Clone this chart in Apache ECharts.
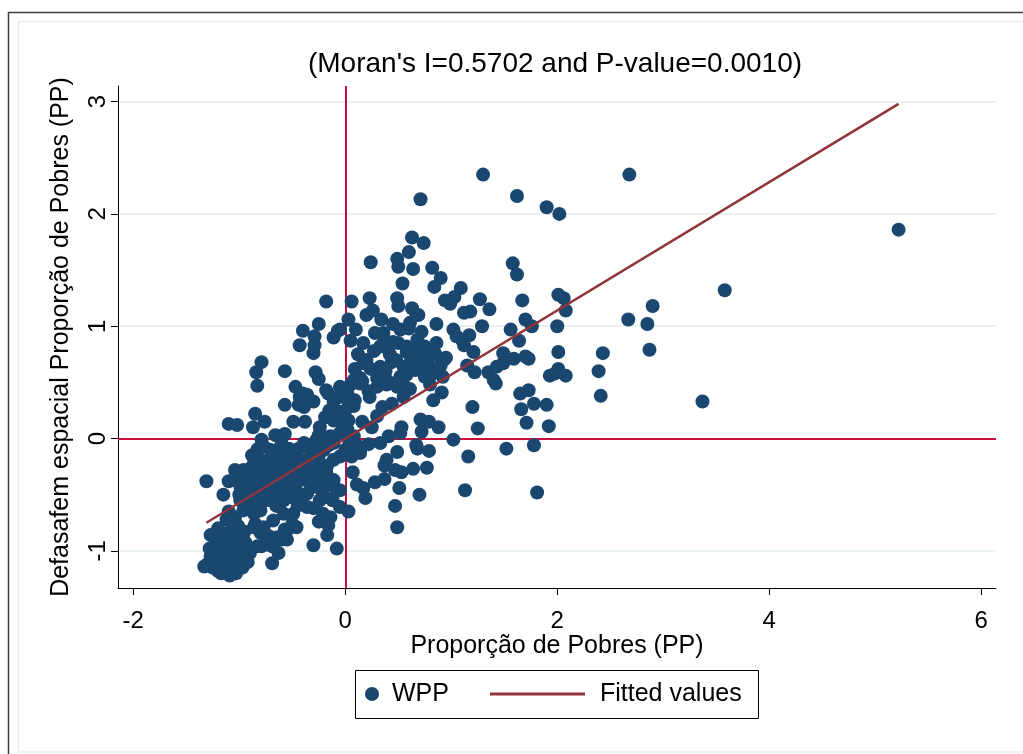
<!DOCTYPE html>
<html lang="pt">
<head>
<meta charset="UTF-8">
<title>Moran scatterplot - Proporção de Pobres</title>
<script src="https://cdn.jsdelivr.net/npm/echarts@6/dist/echarts.min.js"></script>
<style>
  html, body { margin: 0; padding: 0; background: #fff; }
  #chart { width: 1023px; height: 754px; }
</style>
</head>
<body>
<div id="chart"></div>
<script>
// ticks
var xTicks = [-2, 0, 2, 4, 6];
var yTicks = [-1, 0, 1, 2, 3];

// fitted values (slope = Moran's I)
var fitX = [-1.31, 5.22];
var fitY = [-0.75, 2.98];

// WPP: [PP, lag of PP]
var wpp = [
  [1.30,2.35],[2.68,2.35],[1.62,2.16],[1.90,2.06],[2.02,2.00],[0.71,2.13],[5.22,1.86],[3.58,1.32],[3.37,0.33],
  [1.58,1.56],[1.62,1.46],[1.67,1.23],[2.01,1.28],[2.06,1.25],[2.08,1.14],[1.70,1.06],[1.76,1.00],[1.56,0.97],
  [1.64,0.87],[2.00,1.00],[2.90,1.18],[2.67,1.06],[2.85,1.02],[2.87,0.79],[1.49,0.76],[1.59,0.71],[1.70,0.73],
  [1.73,0.71],[2.01,0.77],[2.43,0.76],[2.39,0.60],[2.41,0.38],[1.93,0.56],[2.01,0.62],[1.98,0.58],[2.08,0.56],
  [1.65,0.40],[1.73,0.43],[1.78,0.31],[1.90,0.30],[1.66,0.26],[1.42,0.49],[1.71,0.14],[1.92,0.11],[1.52,-0.09],
  [1.78,-0.06],[1.81,-0.48],
  [1.09,1.34],[1.03,1.26],[0.99,1.20],[1.27,1.24],[1.36,1.15],[1.12,1.12],[1.18,1.13],[1.29,1.00],[1.02,0.97],
  [1.05,0.91],[1.17,0.92],[1.12,0.83],[1.21,0.77],[1.15,0.65],[1.22,0.59],[1.35,0.59],[1.43,0.64],[1.49,0.67],
  [1.40,0.52],[1.20,0.28],[1.25,0.09],[1.02,-0.01],[1.16,-0.16],[1.13,-0.46],[1.10,0.88],
  [0.70,-0.50],[0.47,-0.60],[0.49,-0.79],[0.51,-0.44],[0.77,-0.26],[0.64,-0.27],[0.53,-0.30],[0.47,-0.28],
  [0.37,-0.24],[0.39,-0.19],[0.49,-0.12],[0.67,-0.06],[0.68,-0.09],[0.79,-0.11],[0.33,-0.04],[0.41,0.02],
  [0.52,0.05],[0.53,0.10],[0.72,0.06],[0.71,0.17],[0.79,0.15],[0.88,0.10],[0.83,0.34],[0.91,0.41],[0.55,0.37],
  [0.44,0.31],[0.23,0.37],[0.30,0.46],[0.39,0.48],[0.45,0.49],[0.55,0.48],[0.80,0.48],[0.14,-0.13],[0.06,-0.16],
  [0.00,-0.10],[0.04,-0.04],[-0.05,-0.46],[0.11,-0.41],[0.17,-0.44],[0.19,-0.53],[0.28,-0.39],[0.37,-0.36],
  [0.03,-0.65],[-0.05,-0.61],
  [0.00,0.05],[0.03,0.16],[0.16,0.15],[-0.02,0.22],[0.04,0.31],[0.09,0.34],[0.02,0.40],[-0.05,0.46],[0.05,0.48],
  [0.14,0.49],[0.25,0.10],[0.30,0.20],[0.22,-0.05],
  [0.63,1.79],[0.74,1.74],[0.60,1.66],[0.24,1.57],[0.49,1.60],[0.50,1.53],[0.64,1.51],[0.82,1.52],[0.90,1.43],
  [0.54,1.38],[0.84,1.35],[0.94,1.23],
  [0.06,1.22],[0.23,1.25],[0.49,1.25],[0.50,1.18],[0.63,1.16],[0.67,1.10],[0.20,1.10],[0.26,1.14],[0.34,1.06],
  [0.03,1.06],[0.10,0.97],[-0.05,0.97],[0.45,1.02],[0.52,0.97],[0.61,1.03],[0.60,0.98],[0.86,1.02],
  [0.05,0.87],[0.17,0.85],[0.28,0.94],[0.36,0.94],[0.36,0.85],[0.45,0.86],[0.50,0.85],[0.58,0.77],[0.86,0.85],
  [0.80,0.77],[0.93,0.70],
  [0.09,0.62],[0.20,0.70],[0.24,0.62],[0.33,0.64],[0.44,0.68],[0.55,0.64],[0.63,0.67],[0.71,0.65],[0.77,0.64],
  [0.83,0.58],[0.75,0.55],[0.66,0.61],[0.58,0.57],[0.52,0.55],[0.39,0.52],[0.30,0.54],[0.14,0.54],[0.08,0.52],
  [0.69,1.10],[0.33,0.82],[0.40,0.85],[0.58,0.82],[0.17,0.67],[0.16,0.51],[0.49,0.46],
  [0.88,0.63],[0.95,0.72],[0.92,0.55],[0.78,0.70],[0.70,0.75],[0.85,0.75],[0.75,0.82],[0.68,0.88],[0.65,0.80],
  [0.90,0.65],[0.27,0.78],[0.42,0.75],[0.48,0.70],[0.62,0.72],[0.72,0.95],[0.38,0.60],[0.12,0.75],[0.22,0.42],
  [0.61,0.44],[0.35,0.28],
  [-0.18,1.22],[-0.25,1.02],[-0.40,0.96],[-0.29,0.91],[-0.29,0.83],[-0.30,0.76],[-0.43,0.83],[-0.11,0.90],
  [-0.07,0.96],
  [-0.79,0.68],[-0.84,0.59],[-0.57,0.60],[-0.28,0.59],[-0.25,0.53],[-0.83,0.47],[-0.47,0.46],[-0.18,0.43],
  [-0.43,0.37],[-0.36,0.39],[-0.30,0.33],[-0.39,0.28],[-0.57,0.30],[-0.49,0.15],[-0.38,0.15],
  [-0.16,0.40],[-0.11,0.33],[-0.05,0.37],[0.08,0.29],[0.00,0.25],[-0.07,0.24],[-0.15,0.25],[-0.19,0.19],
  [-0.11,0.16],[-0.05,0.15],
  [-1.10,0.13],[-1.02,0.12],[-0.85,0.22],[-0.76,0.15],[-0.87,0.10],[-0.24,0.10],[-0.25,0.03],[-0.57,0.04],
  [-0.61,0.02],[-0.44,0.30],[-0.40,0.40],
  [-0.79,-0.01],[-0.66,0.03],[-0.60,0.00],[-0.82,-0.09],[-0.63,-0.10],[-0.53,-0.09],[-0.39,-0.06],[-0.28,-0.03],
  [-0.16,-0.06],[-0.11,-0.04],
  [-0.44,-0.09],[-0.39,-0.04],[-0.33,-0.10],[-0.27,-0.01],[-0.22,0.02],[-0.14,0.02],[-0.05,0.05],[0.02,0.08],
  [0.08,0.02],[0.13,-0.07],[0.03,-0.13],[-0.05,-0.16],[-0.11,-0.19],[-0.17,-0.24],[-0.27,-0.25],[-0.36,-0.19],
  [-0.42,-0.25],[-0.49,-0.31],[-0.42,-0.37],[-0.55,-0.37],[-0.61,-0.34],[-0.68,-0.28],[-0.74,-0.37],[-0.80,-0.43],
  [-0.86,-0.49],[-0.93,-0.49],[-0.99,-0.43],[-1.05,-0.37],[-1.02,-0.31],[-0.96,-0.28],[-0.90,-0.31],[-0.80,-0.34],
  [-0.74,-0.25],[-0.64,-0.19],[-0.55,-0.13],[-0.49,-0.19],[-0.61,-0.07],[-0.71,-0.10],[-0.77,-0.07],[-0.83,-0.10],
  [-0.80,-0.19],[-0.88,-0.25],[-0.93,-0.37],[-0.99,-0.55],[-0.93,-0.61],[-0.86,-0.67],[-0.80,-0.64],[-0.71,-0.55],
  [-0.61,-0.52],[-0.52,-0.52],[-0.42,-0.55],[-0.36,-0.61],[-0.49,-0.67],[-0.58,-0.67],[-0.68,-0.73],[-0.77,-0.79],
  [-0.80,-0.84],[-0.74,-0.90],[-0.64,-0.88],[-0.55,-0.82],[-0.46,-0.79],[-0.55,-0.90],[-0.63,-1.02],[-0.69,-1.11],
  [-0.83,-0.96],[-0.90,-1.02],[-0.96,-0.84],[-0.86,-0.79],
  [-0.08,-0.98],[-0.30,-0.95],[-0.17,-0.86],[-0.25,-0.74],[-0.16,-0.77],[-0.14,-0.70],[-0.21,-0.67],[-0.30,-0.62],
  [-0.24,-0.55],[-0.08,-0.46],[-0.14,-0.41],[-0.11,-0.37],[-0.22,-0.37],[-0.30,-0.43],[-0.36,-0.49],
  [-0.57,-0.81],[-0.50,-0.76],[-0.60,-0.90],[-0.72,-0.87],[-0.79,-0.96],[-0.69,-0.96],[-0.85,-0.76],
  [-1.31,-0.38],[-1.15,-0.50],[-1.10,-0.38],[-1.04,-0.28],[-1.10,-0.65],[-0.96,-0.64],
  [-0.95,-0.45],[-0.90,-0.40],[-0.85,-0.35],[-0.75,-0.45],[-0.70,-0.40],[-0.65,-0.35],[-0.60,-0.45],[-0.55,-0.30],
  [-0.50,-0.40],[-0.45,-0.30],[-0.40,-0.25],[-0.35,-0.30],[-0.30,-0.20],[-0.25,-0.15],[-0.20,-0.10],[-0.65,-0.60],
  [-0.70,-0.50],[-0.58,-0.55],[-0.45,-0.60],[-0.40,-0.50],[-0.33,-0.40],[-0.28,-0.30],[-0.18,-0.30],[-0.90,-0.55],
  [-0.95,-0.60],[-1.00,-0.50],[-0.78,-0.25],[-0.72,-0.20],[-0.88,-0.15],[-1.04,-0.70],[-1.12,-0.72],
  [-0.62,-0.25],[-0.57,-0.20],[-0.52,-0.24],[-0.47,-0.45],[-0.53,-0.47],[-0.66,-0.45],[-0.76,-0.55],[-0.83,-0.58],
  [-0.88,-0.45],[-0.97,-0.38],[-0.67,-0.12],[-0.46,-0.14],[-0.34,-0.06],[-0.23,-0.45],[-0.19,-0.52],[-0.12,-0.55],
  [0.07,-0.30],
  [-1.27,-0.86],[-1.20,-0.80],
  [-1.30,-1.12],[-1.33,-1.14],[-1.27,-1.05],[-1.25,-1.15],[-1.22,-0.95],[-1.20,-1.05],[-1.18,-1.12],[-1.17,-1.20],
  [-1.15,-0.88],[-1.13,-0.98],[-1.12,-1.08],[-1.10,-1.17],[-1.08,-0.82],[-1.07,-0.92],[-1.05,-1.02],[-1.04,-1.12],
  [-1.03,-1.20],[-1.01,-0.78],[-1.00,-0.88],[-0.99,-0.97],[-0.98,-1.06],[-0.97,-1.15],[-0.95,-0.83],[-0.94,-0.93],
  [-0.93,-1.02],[-0.92,-1.10],[-1.25,-1.00],[-1.22,-1.10],[-1.28,-0.98],[-1.15,-1.02],[-1.10,-0.95],[-1.18,-0.90],
  [-1.12,-0.85],[-1.06,-0.86],[-1.02,-0.93],[-0.96,-0.90],[-1.08,-1.10],[-1.14,-1.16],[-1.20,-1.18],[-1.09,-1.22],
  [-1.05,-1.17],[-0.99,-1.10]
];

var fnt = '"Liberation Sans", Arial, Helvetica, sans-serif';
var fitData = [];
for (var i = 0; i < fitX.length; i++) {
  fitData.push([fitX[i], fitY[i]]);
}

var chart = echarts.init(document.getElementById('chart'));
var option = {
  backgroundColor: '#fff',
  animation: false,
  textStyle: { fontFamily: fnt },
  title: {
    text: "(Moran's I=0.5702 and P-value=0.0010)",
    left: 555,
    textAlign: 'center',
    top: 50,
    padding: 0,
    textStyle: { fontSize: 28, fontWeight: 'normal', color: '#000', fontFamily: fnt }
  },
  graphic: [
    { type: 'rect', z: -10, shape: { x: 8.5, y: 12.5, width: 1040, height: 770 },
      style: { fill: 'none', stroke: '#3c3c3c', lineWidth: 1.5 } },
    { type: 'rect', z: -10, shape: { x: 18.5, y: 21.5, width: 1030, height: 730.5 },
      style: { fill: 'none', stroke: '#e6eef0', lineWidth: 1.5 } },
    { type: 'rect', z: -5, shape: { x: 355.5, y: 670.5, width: 403, height: 48 },
      style: { fill: '#fff', stroke: '#000', lineWidth: 1 } }
  ],
  legend: [
    {
      data: [{ name: 'WPP', icon: 'circle' }],
      left: 365, top: 680, padding: 0,
      itemWidth: 30, itemHeight: 14,
      textStyle: { fontSize: 25, color: '#000', fontFamily: fnt, lineHeight: 28 }
    },
    {
      data: [{ name: 'Fitted values', icon: 'rect' }],
      left: 490, top: 680, padding: 0,
      itemWidth: 95, itemHeight: 3,
      textStyle: { fontSize: 25, color: '#000', fontFamily: fnt, lineHeight: 28, padding: [0, 0, 0, 10] }
    }
  ],
  grid: { left: 118, right: 27, top: 86, bottom: 166, outerBoundsMode: 'none' },
  xAxis: {
    type: 'value', min: -2.144, max: 6.139,
    name: 'Proporção de Pobres (PP)', nameLocation: 'middle', nameGap: 46,
    nameMoveOverlap: false,
    nameTextStyle: { fontSize: 25, color: '#000', fontFamily: fnt },
    axisLine: { onZero: false, lineStyle: { color: '#000', width: 1 } },
    axisTick: { customValues: xTicks, length: 7, lineStyle: { color: '#000' } },
    axisLabel: { customValues: xTicks, margin: 21, fontSize: 24, color: '#000', fontFamily: fnt },
    splitLine: { show: false }
  },
  yAxis: {
    type: 'value', min: -1.331, max: 3.139,
    name: 'Defasafem espacial Proporção de Pobres (PP)', nameLocation: 'middle', nameGap: 44,
    nameRotate: 90, nameMoveOverlap: false,
    nameTextStyle: { fontSize: 25, color: '#000', fontFamily: fnt },
    axisLine: { onZero: false, lineStyle: { color: '#000', width: 1 } },
    axisTick: { customValues: yTicks, length: 7, lineStyle: { color: '#000' } },
    axisLabel: { customValues: yTicks, rotate: 90, margin: 8, fontSize: 24, color: '#000', fontFamily: fnt },
    splitLine: { show: true, lineStyle: { color: '#eaf2f3', width: 2 } }
  },
  series: [
    {
      name: 'WPP',
      type: 'scatter',
      data: wpp,
      symbol: 'circle',
      symbolSize: 14,
      itemStyle: { color: '#1a476f', opacity: 1 },
      z: 2,
      markLine: {
        z: 1,
        silent: true,
        symbol: 'none',
        label: { show: false },
        lineStyle: { color: '#c8103e', width: 2, type: 'solid' },
        data: [{ xAxis: 0 }, { yAxis: 0 }]
      }
    },
    {
      name: 'Fitted values',
      type: 'line',
      data: fitData,
      symbol: 'none',
      z: 3,
      lineStyle: { color: '#90353b', width: 2.5 },
      itemStyle: { color: '#90353b' }
    }
  ]
};
chart.setOption(option);
</script>
</body>
</html>
